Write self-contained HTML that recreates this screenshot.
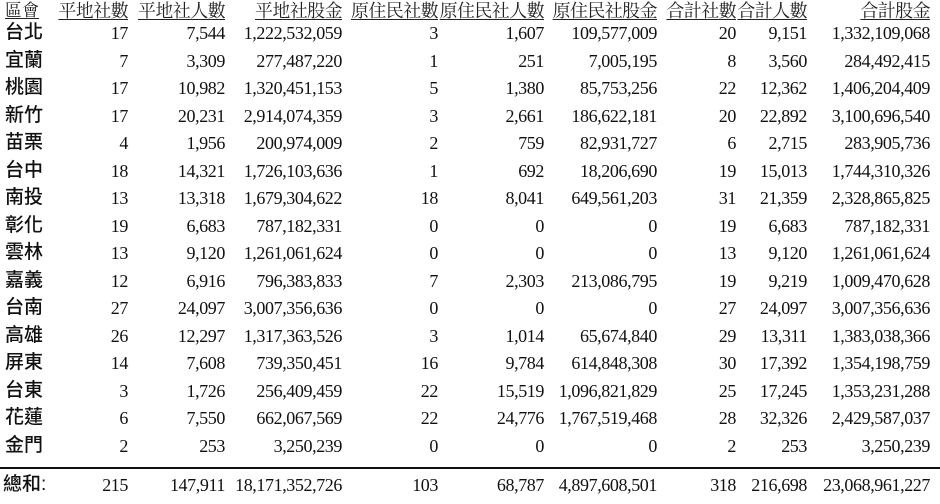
<!DOCTYPE html>
<html><head><meta charset="utf-8"><style>
html,body{margin:0;padding:0;background:#fff;width:940px;height:504px;overflow:hidden;position:relative}
.r{position:absolute;left:0;width:940px;height:24px;font-family:"Liberation Serif","Noto Serif CJK TC",serif;font-size:18px;letter-spacing:-0.4px;color:#111}
.r span{position:absolute;top:0;line-height:24px;white-space:nowrap;text-align:right}
.r span.n{left:5px;text-align:left;font-family:"Liberation Sans","Noto Sans CJK TC",sans-serif;font-size:19px;font-weight:500;letter-spacing:0}
.h span{text-decoration:underline;color:#222;text-decoration-thickness:1px;text-underline-offset:2px;letter-spacing:-0.6px}
.h span.n{font-family:"Liberation Serif","Noto Serif CJK TC",serif;font-size:17px;font-weight:normal}
.c1{right:812px}.c2{right:715px}.c3{right:598px}.c4{right:502px}.c5{right:396px}.c6{right:283px}.c7{right:204px}.c8{right:133px}.c9{right:10px}
.line{position:absolute;left:0;width:940px;top:467px;height:2px;background:#111}
</style></head><body>
<div class="r h" style="top:-1px"><span class="n">區會</span><span class="c1">平地社數</span><span class="c2">平地社人數</span><span class="c3">平地社股金</span><span class="c4">原住民社數</span><span class="c5">原住民社人數</span><span class="c6">原住民社股金</span><span class="c7">合計社數</span><span class="c8">合計人數</span><span class="c9">合計股金</span></div>
<div class="r" style="top:21px"><span class="n">台北</span><span class="c1">17</span><span class="c2">7,544</span><span class="c3">1,222,532,059</span><span class="c4">3</span><span class="c5">1,607</span><span class="c6">109,577,009</span><span class="c7">20</span><span class="c8">9,151</span><span class="c9">1,332,109,068</span></div>
<div class="r" style="top:49px"><span class="n">宜蘭</span><span class="c1">7</span><span class="c2">3,309</span><span class="c3">277,487,220</span><span class="c4">1</span><span class="c5">251</span><span class="c6">7,005,195</span><span class="c7">8</span><span class="c8">3,560</span><span class="c9">284,492,415</span></div>
<div class="r" style="top:76px"><span class="n">桃園</span><span class="c1">17</span><span class="c2">10,982</span><span class="c3">1,320,451,153</span><span class="c4">5</span><span class="c5">1,380</span><span class="c6">85,753,256</span><span class="c7">22</span><span class="c8">12,362</span><span class="c9">1,406,204,409</span></div>
<div class="r" style="top:104px"><span class="n">新竹</span><span class="c1">17</span><span class="c2">20,231</span><span class="c3">2,914,074,359</span><span class="c4">3</span><span class="c5">2,661</span><span class="c6">186,622,181</span><span class="c7">20</span><span class="c8">22,892</span><span class="c9">3,100,696,540</span></div>
<div class="r" style="top:131px"><span class="n">苗栗</span><span class="c1">4</span><span class="c2">1,956</span><span class="c3">200,974,009</span><span class="c4">2</span><span class="c5">759</span><span class="c6">82,931,727</span><span class="c7">6</span><span class="c8">2,715</span><span class="c9">283,905,736</span></div>
<div class="r" style="top:159px"><span class="n">台中</span><span class="c1">18</span><span class="c2">14,321</span><span class="c3">1,726,103,636</span><span class="c4">1</span><span class="c5">692</span><span class="c6">18,206,690</span><span class="c7">19</span><span class="c8">15,013</span><span class="c9">1,744,310,326</span></div>
<div class="r" style="top:186px"><span class="n">南投</span><span class="c1">13</span><span class="c2">13,318</span><span class="c3">1,679,304,622</span><span class="c4">18</span><span class="c5">8,041</span><span class="c6">649,561,203</span><span class="c7">31</span><span class="c8">21,359</span><span class="c9">2,328,865,825</span></div>
<div class="r" style="top:214px"><span class="n">彰化</span><span class="c1">19</span><span class="c2">6,683</span><span class="c3">787,182,331</span><span class="c4">0</span><span class="c5">0</span><span class="c6">0</span><span class="c7">19</span><span class="c8">6,683</span><span class="c9">787,182,331</span></div>
<div class="r" style="top:241px"><span class="n">雲林</span><span class="c1">13</span><span class="c2">9,120</span><span class="c3">1,261,061,624</span><span class="c4">0</span><span class="c5">0</span><span class="c6">0</span><span class="c7">13</span><span class="c8">9,120</span><span class="c9">1,261,061,624</span></div>
<div class="r" style="top:269px"><span class="n">嘉義</span><span class="c1">12</span><span class="c2">6,916</span><span class="c3">796,383,833</span><span class="c4">7</span><span class="c5">2,303</span><span class="c6">213,086,795</span><span class="c7">19</span><span class="c8">9,219</span><span class="c9">1,009,470,628</span></div>
<div class="r" style="top:296px"><span class="n">台南</span><span class="c1">27</span><span class="c2">24,097</span><span class="c3">3,007,356,636</span><span class="c4">0</span><span class="c5">0</span><span class="c6">0</span><span class="c7">27</span><span class="c8">24,097</span><span class="c9">3,007,356,636</span></div>
<div class="r" style="top:324px"><span class="n">高雄</span><span class="c1">26</span><span class="c2">12,297</span><span class="c3">1,317,363,526</span><span class="c4">3</span><span class="c5">1,014</span><span class="c6">65,674,840</span><span class="c7">29</span><span class="c8">13,311</span><span class="c9">1,383,038,366</span></div>
<div class="r" style="top:351px"><span class="n">屏東</span><span class="c1">14</span><span class="c2">7,608</span><span class="c3">739,350,451</span><span class="c4">16</span><span class="c5">9,784</span><span class="c6">614,848,308</span><span class="c7">30</span><span class="c8">17,392</span><span class="c9">1,354,198,759</span></div>
<div class="r" style="top:379px"><span class="n">台東</span><span class="c1">3</span><span class="c2">1,726</span><span class="c3">256,409,459</span><span class="c4">22</span><span class="c5">15,519</span><span class="c6">1,096,821,829</span><span class="c7">25</span><span class="c8">17,245</span><span class="c9">1,353,231,288</span></div>
<div class="r" style="top:406px"><span class="n">花蓮</span><span class="c1">6</span><span class="c2">7,550</span><span class="c3">662,067,569</span><span class="c4">22</span><span class="c5">24,776</span><span class="c6">1,767,519,468</span><span class="c7">28</span><span class="c8">32,326</span><span class="c9">2,429,587,037</span></div>
<div class="r" style="top:434px"><span class="n">金門</span><span class="c1">2</span><span class="c2">253</span><span class="c3">3,250,239</span><span class="c4">0</span><span class="c5">0</span><span class="c6">0</span><span class="c7">2</span><span class="c8">253</span><span class="c9">3,250,239</span></div>
<div class="line"></div>
<div class="r" style="top:473px"><span class="n" style="left:3px">總和:</span><span class="c1">215</span><span class="c2">147,911</span><span class="c3">18,171,352,726</span><span class="c4">103</span><span class="c5">68,787</span><span class="c6">4,897,608,501</span><span class="c7">318</span><span class="c8">216,698</span><span class="c9">23,068,961,227</span></div>
</body></html>
